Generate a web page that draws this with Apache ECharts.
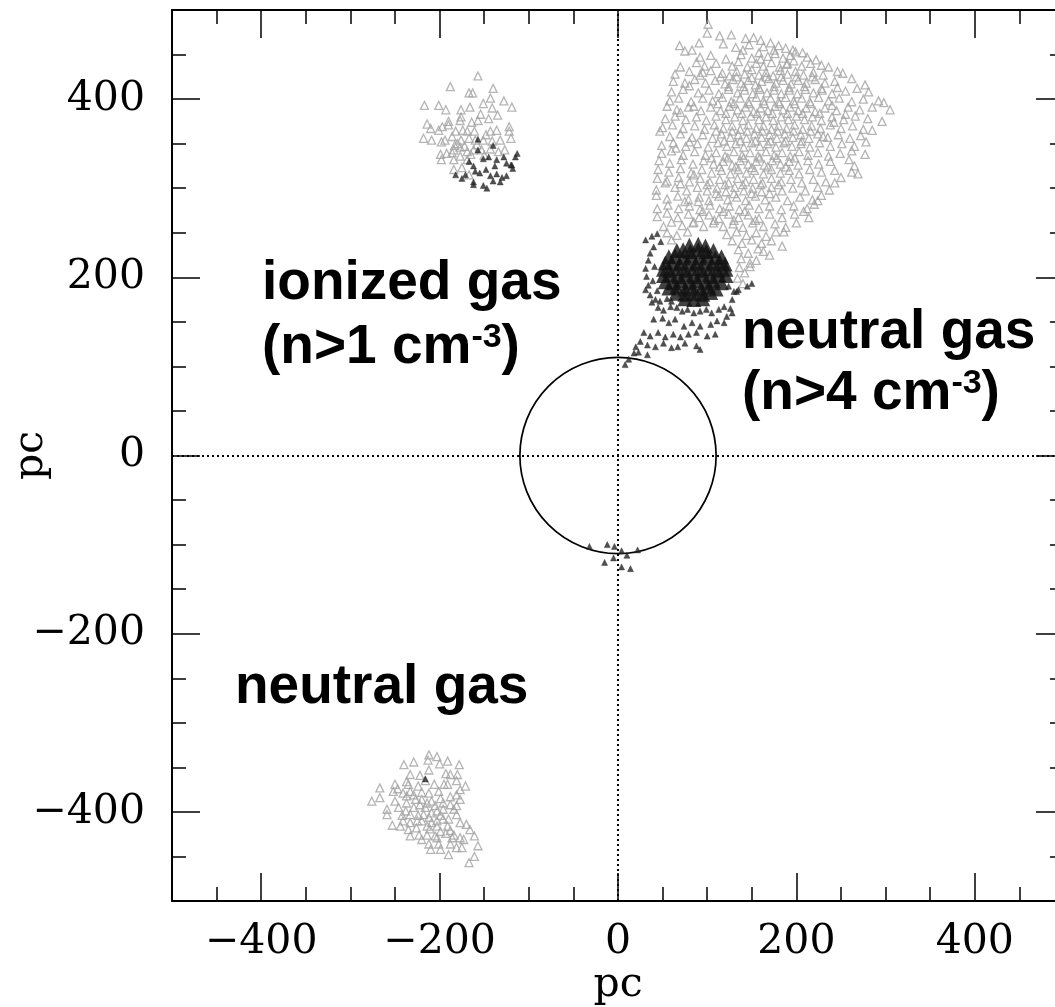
<!DOCTYPE html>
<html><head><meta charset="utf-8">
<script src="https://cdn.jsdelivr.net/npm/echarts@6/dist/echarts.min.js"></script>
<style>html,body{margin:0;padding:0;background:#fff}#c{width:1055px;height:1007px}</style>
</head><body><div id="c"></div>
<script>
// ---------- tick values ----------
const xMajorTicks = [-400, -200, 0, 200, 400];
const yMajorTicks = [-400, -200, 0, 200, 400];
const minorStep = 50;

// ---------- upper-right cloud, light grey open triangles ----------
const neutralGasGrey = [
[101,484],
[100,474],[114,471],[127,472],[143,468],[152,469],[160,466],
[69,460],[75,454],[83,455],[91,463],[118,462],[132,458],[147,461],[163,459],[171,463],[180,460],[188,457],[196,455],[207,452],
[92,447],[104,449],[121,445],[138,450],[150,446],[158,452],[168,448],[176,451],[185,446],[193,449],[199,453],[212,447],[222,444],
[70,436],[88,441],[97,437],[110,440],[128,437],[135,442],[145,436],[155,440],[163,437],[172,441],[181,436],[189,439],[197,443],[206,437],[216,440],[228,438],[236,436],
[64,428],[80,431],[92,427],[104,432],[117,429],[125,426],[133,431],[142,428],[150,433],[158,427],[166,430],[174,426],[182,432],[190,428],[199,431],[208,427],[219,430],[230,427],[246,431],[252,429],
[62,420],[75,418],[86,422],[98,418],[109,421],[120,417],[129,422],[138,418],[146,421],[154,416],[161,420],[169,423],[177,418],[185,421],[194,417],[202,421],[211,418],[221,422],[232,418],[243,420],[262,423],
[60,408],[73,411],[90,407],[102,410],[113,406],[124,411],[134,407],[142,410],[151,406],[159,411],[167,407],[175,410],[183,406],[192,410],[201,406],[210,411],[219,407],[229,410],[240,406],[255,409],[268,412],[277,416],[281,408],
[58,398],[68,401],[82,397],[95,401],[106,398],[117,402],[127,397],[137,401],[146,397],[155,402],[163,398],[171,401],[180,397],[188,402],[197,398],[206,401],[215,397],[225,402],[236,398],[248,401],[262,397],[275,400],[292,398],[298,396],
[55,392],[66,388],[79,391],[93,387],[104,391],[115,387],[125,392],[134,388],[143,391],[152,386],[160,390],[168,387],[176,392],[185,388],[193,391],[202,387],[211,390],[221,386],[232,390],[245,387],[258,391],[271,388],[285,391],[305,388],
[53,378],[64,381],[76,377],[88,380],[99,376],[110,381],[121,377],[131,380],[140,376],[149,381],[158,377],[166,380],[174,376],[183,380],[191,377],[200,381],[209,377],[218,380],[228,376],[240,380],[253,377],[266,381],[280,378],[296,375],
[50,368],[61,371],[73,367],[86,370],[97,366],[108,371],[118,367],[128,370],[137,366],[146,371],[155,367],[163,370],[172,366],[180,370],[189,367],[198,371],[207,366],[217,370],[227,367],[238,371],[250,367],[263,370],[275,366],[285,365],
[47,364],[58,358],[70,361],[83,357],[95,360],[106,356],[116,361],[126,357],[135,360],[144,356],[153,361],[161,357],[170,360],[178,356],[187,361],[196,357],[205,360],[214,356],[224,361],[235,357],[247,360],[260,356],[272,359],
[49,348],[62,351],[76,347],[89,350],[101,346],[112,351],[122,347],[132,350],[141,346],[150,351],[159,347],[168,350],[177,346],[186,351],[195,347],[205,350],[215,346],[226,351],[238,347],[251,350],[265,347],[278,352],
[49,339],[60,342],[73,337],[86,341],[98,337],[110,340],[120,336],[130,341],[139,337],[148,340],[157,336],[166,341],[175,337],[184,340],[193,336],[203,341],[213,337],[224,340],[236,336],[249,339],[262,342],[277,338],
[46,331],[58,328],[71,332],[84,327],[96,331],[107,327],[118,330],[128,326],[137,331],[146,327],[155,330],[164,326],[173,331],[182,327],[192,330],[202,326],[213,331],[225,327],[238,330],[259,332],[265,325],
[45,321],[57,318],[70,322],[82,317],[94,321],[105,317],[116,320],[126,316],[135,321],[144,317],[153,320],[163,316],[172,321],[182,317],[192,320],[203,316],[215,321],[228,318],[243,320],[262,318],[269,316],
[44,311],[55,308],[68,312],[80,307],[92,311],[103,307],[114,310],[124,306],[134,311],[143,307],[152,310],[162,306],[172,311],[183,307],[194,310],[206,306],[219,310],[233,307],[243,306],[250,312],
[43,298],[53,306],[64,301],[77,297],[89,301],[100,297],[111,300],[121,296],[131,301],[141,297],[151,300],[161,296],[172,301],[184,297],[196,300],[210,297],[224,301],[237,298],
[43,292],[55,288],[67,291],[79,287],[91,290],[102,286],[113,291],[123,287],[133,290],[143,286],[154,291],[165,287],[177,290],[190,286],[204,290],[218,287],[228,292],
[44,277],[56,281],[68,277],[80,280],[92,276],[103,281],[114,277],[125,280],[136,276],[147,281],[158,277],[170,280],[183,276],[197,280],[212,277],[224,286],[220,282],
[44,268],[55,272],[67,267],[79,271],[91,267],[102,270],[113,266],[124,271],[135,267],[146,270],[158,266],[170,271],[184,267],[198,271],[208,274],[214,267],
[51,257],[60,262],[72,258],[84,261],[96,257],[107,261],[118,257],[129,260],[140,256],[151,261],[163,257],[176,260],[188,256],[200,261],
[55,250],[66,247],[78,251],[122,248],[133,251],[144,247],[155,250],[166,246],[177,251],[186,251],
[60,242],[128,241],[139,238],[150,242],[161,238],[172,241],[184,235],
[135,231],[146,227],[157,232],[163,229],[170,225],
[138,221],[148,216],[155,219],
[136,211],[148,212],[142,205],
[134,199],[140,193]
];
const neutralGasGreyCore = [
[115,425],[124,414],[133,425],[141,414],[150,424],[158,413],[166,425],[175,414],[183,425],[192,413],[200,425],[209,414],[218,425],
[112,395],[121,384],[130,395],[139,384],[147,395],[156,384],[164,395],[173,384],[181,395],[190,384],[198,395],[207,384],[216,395],[226,384],
[110,364],[119,353],[128,364],[137,353],[145,364],[154,353],[162,364],[171,353],[179,364],[188,353],[197,364],[206,353],[216,364],
[105,334],[114,324],[123,334],[132,324],[141,334],[150,323],[159,334],[168,324],[178,334],[188,324],[198,334],
[100,304],[110,294],[120,304],[130,294],[140,304],[150,294],[160,304],[170,294],[180,304],
[95,274],[108,264],[118,274],[130,264],[142,274],[154,264],
[85,262],[75,285],[90,285],[70,305],[85,315],[65,345],[80,352],[70,385],[85,392],[80,415],[95,430],
[230,358],[242,374],[255,383],[240,393],[228,412],[246,413],[190,440],[175,455],[160,445],[140,455]
];

// ---------- upper-left cloud ----------
const ionizedGrey = [
[-157,426],[-188,414],[-167,407],[-163,407],[-140,412],[-143,401],[-128,398],
[-217,393],[-201,393],[-193,388],[-176,388],[-166,391],[-151,395],[-141,390],[-119,391],
[-154,383],[-145,378],[-135,382],[-176,380],[-177,376],
[-214,372],[-210,367],[-201,365],[-197,369],[-190,375],[-190,371],[-164,374],[-157,376],
[-182,364],[-174,365],[-169,364],[-161,364],[-143,364],[-136,365],[-122,369],[-122,364],
[-218,356],[-209,354],[-198,352],[-194,354],[-186,358],[-183,348],[-176,354],[-167,356],[-160,354],[-151,354],
[-141,353],[-132,354],[-120,356],
[-199,338],[-192,339],[-184,343],[-177,346],[-169,341],[-162,343],[-153,343],[-143,344],[-134,341],[-127,343],
[-198,332],[-184,332],[-177,336],[-169,332],[-184,321],[-175,323],[-167,315],
[-180,350],[-172,347],[-158,349],[-148,360],[-186,340],[-165,338],[-150,337]
];
const ionizedDark = [
[-157,355],[-157,343],[-140,348],[-167,330],[-162,325],[-151,333],[-145,335],[-136,332],
[-128,335],[-125,328],[-119,326],[-115,335],[-113,339],
[-182,315],[-175,311],[-171,315],
[-160,319],[-155,317],[-148,321],[-143,314],[-136,316],[-130,312],[-125,314],
[-162,307],[-162,304],[-151,303],[-147,300],[-140,308],[-132,307],
[-120,326],[-118,322],[-138,325]
];

// ---------- lower-left cloud ----------
const neutralLowGrey = [
[-212,-336],[-203,-338],
[-240,-347],[-229,-344],[-213,-342],[-200,-346],[-191,-343],[-178,-347],
[-233,-358],[-222,-359],[-212,-353],[-193,-357],[-188,-358],[-180,-358],
[-250,-369],[-247,-374],[-237,-366],[-235,-369],[-224,-371],[-216,-365],[-206,-369],[-195,-369],[-191,-369],
[-181,-365],[-171,-371],[-177,-375],
[-267,-373],[-252,-377],[-241,-379],[-233,-377],[-229,-381],
[-220,-378],[-212,-379],[-201,-377],[-199,-385],[-188,-383],[-181,-381],[-177,-386],
[-276,-388],[-267,-384],[-250,-388],[-237,-390],[-220,-386],[-209,-388],[-196,-390],[-188,-392],
[-259,-397],[-246,-395],[-238,-399],[-229,-395],[-216,-395],[-203,-399],[-184,-397],[-181,-393],
[-259,-403],[-242,-404],[-233,-403],[-224,-404],[-212,-406],[-199,-404],[-190,-408],[-181,-403],
[-253,-415],[-244,-416],[-233,-412],[-220,-410],[-209,-412],[-203,-410],[-191,-416],[-177,-412],[-170,-414],
[-235,-420],[-226,-418],[-211,-419],[-199,-422],[-188,-421],[-166,-420],[-161,-427],
[-233,-427],[-220,-431],[-214,-426],[-205,-427],[-184,-426],[-177,-429],[-173,-431],[-157,-438],
[-212,-436],[-201,-436],[-188,-436],[-181,-440],[-175,-440],
[-210,-442],[-199,-442],[-190,-448],
[-161,-450],[-167,-457],
[-237,-382],[-227,-386],[-214,-390],[-205,-393],[-196,-397],[-225,-410],[-214,-416],[-203,-416],
[-218,-403],[-196,-408],[-209,-401],[-222,-392],[-241,-410],[-193,-424],[-186,-429],[-223,-426],[-203,-429]
];
const neutralLowDark = [[-216,-363]];

// ---------- dark points around the dense core ----------
const coreHaloDark = [
[31,242],[44,249],[40,234],[36,227],[34,219],
[31,210],[32,201],[34,191],[31,186],
[36,180],[42,175],[38,172],
[47,173],[55,176],[60,173],[45,166],[51,163],[59,167],
[66,166],[72,162],[78,164],[85,160],[92,162],[99,164],[105,160],[113,164],[119,167],[126,165],[130,184],[135,186],[145,190],
[40,153],[50,154],[57,149],[64,153],[74,145],[83,149],[92,145],[104,147],[111,151],[119,149],[122,156],[128,160],
[29,138],[36,134],[45,138],[53,133],[62,136],[70,133],[79,136],[88,138],[100,134],[109,136],
[33,124],[42,122],[51,126],[60,121],[67,122],[75,126],[88,123],[92,119],
[23,116],[33,113],[150,193],[133,184],
[12,108],[18,115],[8,102],[25,128],[20,122],
[38,246],[48,240],[41,212],[39,196],[44,185],[128,175],[124,190]
];
const coreDark = [
[80,236],[90,237],[98,235],
[66,230],[73,231],[81,229],[90,231],[99,229],[107,230],
[57,223],[64,224],[73,222],[82,224],[91,222],[100,224],[109,222],[116,223],
[53,216],[60,217],[69,215],[78,217],[87,215],[96,217],[105,215],[114,217],[120,215],
[51,209],[58,208],[67,210],[76,208],[85,210],[94,208],[103,210],[112,208],[121,209],
[51,202],[59,203],[68,201],[77,203],[86,201],[95,203],[104,201],[113,203],[121,202],
[53,195],[62,194],[71,196],[80,194],[89,196],[98,194],[107,196],[116,194],
[57,188],[66,189],[75,187],[84,189],[93,187],[102,189],[110,187],
[65,182],[75,181],[85,182],[95,181],[104,183],
[75,176],[85,175],[95,176]
];
const nearCircleDark = [
[-32,-102],[-12,-100],[-4,-102],[4,-107],[10,-112],[22,-106],[-15,-120],[-5,-115],[4,-125],[14,-127]
];

// ---------- circle (center x, center y, radius in pc) ----------
const circleData = [[0, 0, 110]];

// ---------- chart ----------
const SERIF = '"DejaVu Serif", serif';
const SANS = '"Liberation Sans", Arial, sans-serif';
function fmt(v) { return v < 0 ? '\u2212' + Math.abs(v) : String(v); }
const lineStyle = { color: '#000', width: 1.5 };

function xAx(position, major, withLabel) {
  const a = {
    type: 'value', min: -500, max: 500, position: position,
    axisLine: { show: major, onZero: false, lineStyle: { color: '#000', width: 2 } },
    axisTick: { show: true, inside: true, length: major ? 28 : 14, lineStyle: lineStyle },
    axisLabel: { show: false },
    splitLine: { show: false }
  };
  if (major) { a.axisTick.customValues = xMajorTicks; }
  else { a.interval = minorStep; }
  if (withLabel) {
    a.axisLabel = { show: true, customValues: xMajorTicks, formatter: fmt, margin: 21,
      color: '#000', fontFamily: SERIF, fontSize: 41 };
    a.name = 'pc'; a.nameLocation = 'middle'; a.nameGap = 64; a.nameMoveOverlap = false;
    a.nameTextStyle = { color: '#000', fontFamily: SERIF, fontSize: 41 };
  }
  return a;
}
function yAx(position, major, withLabel) {
  const a = {
    type: 'value', min: -500, max: 500, position: position,
    axisLine: { show: major, onZero: false, lineStyle: { color: '#000', width: 2 } },
    axisTick: { show: true, inside: true, length: major ? 28 : 14, lineStyle: lineStyle },
    axisLabel: { show: false },
    splitLine: { show: false }
  };
  if (major) { a.axisTick.customValues = yMajorTicks; }
  else { a.interval = minorStep; }
  if (withLabel) {
    a.axisLabel = { show: true, customValues: yMajorTicks, formatter: fmt, margin: 27,
      color: '#000', fontFamily: SERIF, fontSize: 41 };
    a.name = 'pc'; a.nameLocation = 'middle'; a.nameGap = 120; a.nameMoveOverlap = false;
    a.nameTextStyle = { color: '#000', fontFamily: SERIF, fontSize: 41 };
  }
  return a;
}

const greyStyle = { color: 'rgba(255,255,255,0)', borderColor: '#a2a2a2', borderWidth: 1.3 };
const darkStyle = { color: '#262626', borderColor: '#262626', borderWidth: 0.5 };
function scatter(data, size, itemStyle, extra) {
  return Object.assign({ type: 'scatter', xAxisIndex: 0, yAxisIndex: 0, data: data,
    symbol: 'triangle', symbolSize: size, itemStyle: itemStyle, silent: true,
    emphasis: { disabled: true } }, extra || {});
}

const chart = echarts.init(document.getElementById('c'), null, { renderer: 'canvas' });
chart.setOption({
  backgroundColor: '#fff',
  animation: false,
  grid: { left: 172, top: 10, width: 892, height: 891, outerBoundsMode: 'none', containLabel: false },
  xAxis: [xAx('bottom', true, true), xAx('bottom', false, false), xAx('top', true, false), xAx('top', false, false)],
  yAxis: [yAx('left', true, true), yAx('left', false, false), yAx('right', true, false), yAx('right', false, false)],
  series: [
    scatter(neutralGasGrey, 8, greyStyle, {
      markLine: { silent: true, symbol: ['none', 'none'], label: { show: false },
        lineStyle: { color: '#000', width: 2, type: [2, 3] },
        emphasis: { disabled: true },
        data: [{ xAxis: 0 }, { yAxis: 0 }] }
    }),
    scatter(neutralGasGreyCore, 8, greyStyle),
    scatter(ionizedGrey, 8, greyStyle),
    scatter(neutralLowGrey, 8, greyStyle),
    scatter(ionizedDark, 6, darkStyle),
    scatter(neutralLowDark, 6, darkStyle),
    scatter(coreHaloDark, 6, darkStyle),
    scatter(nearCircleDark, 6, darkStyle),
    scatter(coreDark, 15, { color: '#111' }),
    {
      type: 'custom', xAxisIndex: 0, yAxisIndex: 0, data: circleData, silent: true,
      renderItem: function (params, api) {
        const c = api.coord([api.value(0), api.value(1)]);
        const r = api.size([api.value(2), 0])[0];
        return { type: 'circle', shape: { cx: c[0], cy: c[1], r: r },
          style: { fill: 'none', stroke: '#000', lineWidth: 1.7 } };
      }
    }
  ],
  graphic: [
    { type: 'text', x: 262, y: 284, silent: true,
      style: { text: 'ionized gas', font: 'bold 55px ' + SANS, fill: '#000', align: 'left', verticalAlign: 'middle' } },
    { type: 'text', x: 262, y: 348, silent: true,
      style: { text: '{m|(n>1 cm}{s|-3}{m|)}', font: 'bold 55px ' + SANS, fill: '#000', align: 'left', verticalAlign: 'middle',
        rich: { m: { font: 'bold 55px ' + SANS, fontSize: 55, fontWeight: 'bold', fontFamily: SANS, fill: '#000' },
                s: { font: 'bold 34px ' + SANS, fontSize: 34, fontWeight: 'bold', fontFamily: SANS, fill: '#000', verticalAlign: 'top' } } } },
    { type: 'text', x: 742, y: 333, silent: true,
      style: { text: 'neutral gas', font: 'bold 55px ' + SANS, fill: '#000', align: 'left', verticalAlign: 'middle' } },
    { type: 'text', x: 742, y: 394, silent: true,
      style: { text: '{m|(n>4 cm}{s|-3}{m|)}', font: 'bold 55px ' + SANS, fill: '#000', align: 'left', verticalAlign: 'middle',
        rich: { m: { font: 'bold 55px ' + SANS, fontSize: 55, fontWeight: 'bold', fontFamily: SANS, fill: '#000' },
                s: { font: 'bold 34px ' + SANS, fontSize: 34, fontWeight: 'bold', fontFamily: SANS, fill: '#000', verticalAlign: 'top' } } } },
    { type: 'text', x: 235, y: 688, silent: true,
      style: { text: 'neutral gas', font: 'bold 55px ' + SANS, fill: '#000', align: 'left', verticalAlign: 'middle' } }
  ]
});
</script>
</body></html>
